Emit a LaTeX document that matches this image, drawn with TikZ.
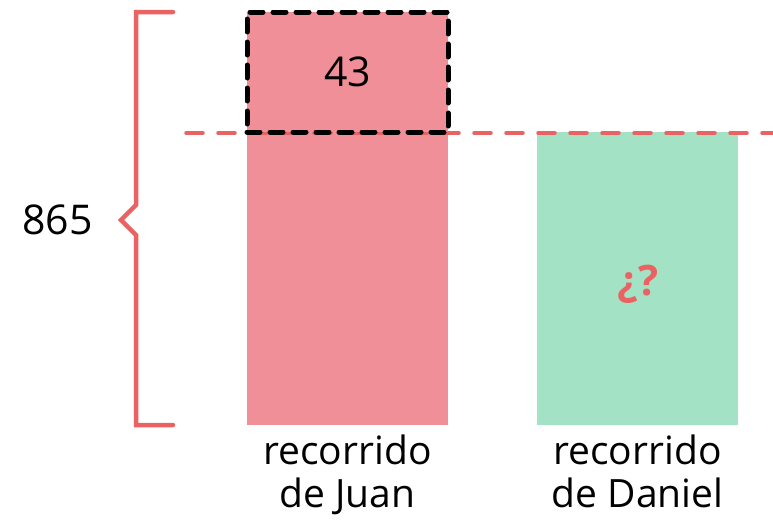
\documentclass[tikz,border=0pt]{standalone}
\usepackage{fontspec}
\setmainfont{Open Sans}
\usetikzlibrary{positioning}
\definecolor{juanpink}{RGB}{240,143,152}
\definecolor{danielgreen}{RGB}{164,226,197}
\definecolor{markred}{RGB}{235,98,98}
\tikzset{
    % Colors
    juan color/.style={fill=juanpink},
    daniel color/.style={fill=danielgreen},
    %
    % Bars
    bar/.style={rectangle,inner sep=0pt,outer sep=0pt,minimum width=201pt,minimum height=293pt},
    extra part/.style={bar,juan color,minimum height=120pt,draw=black,line width=5pt,dash pattern=on 13pt off 10pt,line cap=round},
    %
    % Brace and guide line
    brace/.style={draw=markred,line width=4.5pt,line cap=round,line join=miter},
    guide line/.style={draw=markred,line width=3.5pt,dash pattern=on 17pt off 15pt,line cap=round},
    %
    % Texts
    label text/.style={align=center,font=\fontsize{39}{43}\selectfont},
    question/.style={text=markred,font=\fontsize{42}{44}\selectfont\bfseries}
}
\tikzstyle{every node}=[font=\fontsize{41}{44}\selectfont]

\begin{document}
\begin{tikzpicture}[x=1pt,y=-1pt]
        \useasboundingbox (0,0) rectangle (773,522);
        % bars
        \node[bar,juan color] (juan bar) at (347.5,278.5) {};
        \node[bar,daniel color,right=89pt of juan bar] (daniel bar) {};
        % guide line at the height of Daniel's bar
        \coordinate (guide start) at (186,133);
        \coordinate (guide end) at (773,133);
        \draw[guide line] (guide start) -- (guide end);
        \node[extra part,above=0pt of juan bar] (juan extra) {43};
        \node[question] (unknown) at (638,284) {¿?};
        \node[label text,below=6pt of juan bar] (juan label) {recorrido\\de Juan};
        \node[label text,below=6pt of daniel bar] (daniel label) {recorrido\\de Daniel};
        % brace
        \coordinate (brace tip) at (121,220);
        \draw[brace] (173,12) -- (136,12) -- (136,205) -- (brace tip) -- (136,235) -- (136,425) -- (173,425);
        \node[left=25pt of brace tip] (total) {865};
    \end{tikzpicture}
\end{document}
